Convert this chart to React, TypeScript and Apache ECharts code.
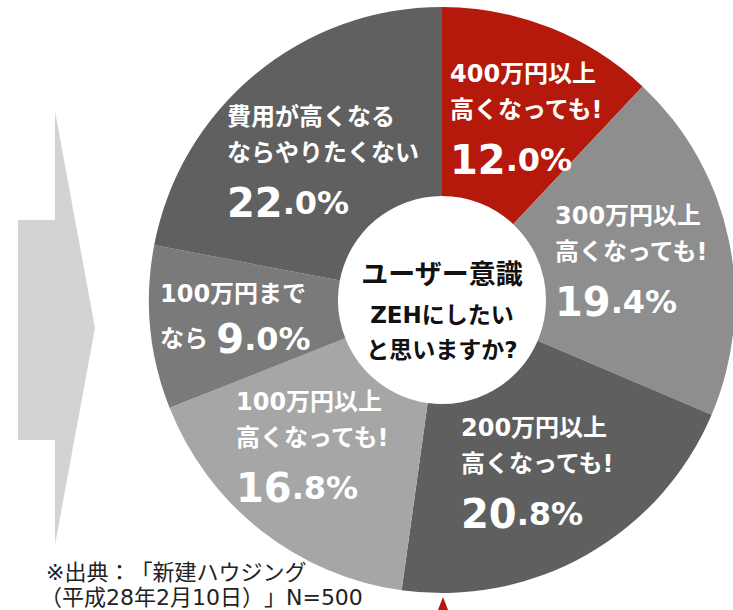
import React, { useEffect, useRef } from "react";
import * as echarts from "echarts";

// ---- data ----
const categories = [
  "400万円以上高くなっても!",
  "300万円以上高くなっても!",
  "200万円以上高くなっても!",
  "100万円以上高くなっても!",
  "100万円までなら",
  "費用が高くなるならやりたくない",
];
const labelLines: string[][] = [
  ["400万円以上", "高くなっても!"],
  ["300万円以上", "高くなっても!"],
  ["200万円以上", "高くなっても!"],
  ["100万円以上", "高くなっても!"],
  ["100万円まで", "なら"],
  ["費用が高くなる", "ならやりたくない"],
];
const values = [12.0, 19.4, 20.8, 16.8, 9.0, 22.0];
const inlinePct = [false, false, false, false, true, false];

const centerTitle = "ユーザー意識";
const centerLines = ["ZEHにしたい", "と思いますか?"];
const sourceLines = ["※出典：「新建ハウジング", "（平成28年2月10日）」N=500"];

// ---- styles / layout ----
const sliceColors = ["#B5190B", "#8E8E8E", "#5F5F5F", "#A6A6A6", "#7A7A7A", "#606060"];
const labelAnchors = [
  [450, 56],
  [555, 198],
  [461, 410],
  [236, 384],
  [160, 276],
  [227, 99],
];
const FONT = "'DejaVu Sans', 'Noto Sans CJK JP', sans-serif";
const CJK = "'Noto Sans CJK JP', 'DejaVu Sans', sans-serif";

export default function App() {
  const ref = useRef<HTMLDivElement>(null);
  useEffect(() => {
    document.body.style.margin = "0";
    const st = document.createElement("style");
    st.textContent = "svg text { text-spacing-trim: space-all; }";
    document.head.appendChild(st);
    if (!ref.current) return;
    const chart = echarts.init(ref.current, undefined, { renderer: "svg" });
    const cx = 442;
    const cy = 300;
    const W = "#fff";
    const option: any = {
      animation: false,
      backgroundColor: "#ffffff",
      series: [
        {
          type: "pie",
          center: [cx, cy],
          radius: [104, 293],
          startAngle: 90,
          clockwise: true,
          avoidLabelOverlap: false,
          silent: true,
          itemStyle: { borderWidth: 0 },
          labelLine: { show: false },
          label: {
            show: true,
            position: "inside",
            color: W,
            fontFamily: FONT,
            fontWeight: "bold",
            align: "left",
            formatter: (p: any) => {
              const i = p.dataIndex;
              const [ip, dp] = values[i].toFixed(1).split(".");
              const lines = labelLines[i];
              if (inlinePct[i]) {
                return `{t|${lines[0]}}\n{t|${lines[1]} }{b2|${ip}}{s2|.${dp}%}`;
              }
              return `{t|${lines[0]}}\n{t|${lines[1]}}\n{b|${ip}}{s|.${dp}%}`;
            },
            rich: {
              t: { fontSize: 24, lineHeight: 36, color: W, fontWeight: "bold", fontFamily: FONT },
              b: { fontSize: 40, lineHeight: 64, color: W, fontWeight: "bold", fontFamily: FONT },
              s: { fontSize: 32, lineHeight: 64, color: W, fontWeight: "bold", fontFamily: FONT },
              b2: { fontSize: 40, lineHeight: 54, color: W, fontWeight: "bold", fontFamily: FONT },
              s2: { fontSize: 32, lineHeight: 54, color: W, fontWeight: "bold", fontFamily: FONT },
            },
          },
          labelLayout: (params: any) => {
            const a = labelAnchors[params.dataIndex];
            return { x: a[0], y: a[1], align: "left", verticalAlign: "top" };
          },
          data: categories.map((name, i) => ({
            name,
            value: values[i],
            itemStyle: { color: sliceColors[i] },
          })),
        },
      ],
      graphic: [
        {
          type: "polygon",
          shape: {
            points: [
              [18, 220],
              [55, 220],
              [55, 111],
              [95, 328],
              [55, 545],
              [55, 440],
              [18, 440],
            ],
          },
          style: { fill: "#D3D3D3" },
        },
        {
          type: "polygon",
          shape: { points: [[443, 597], [434, 620], [452, 620]] },
          style: { fill: "#B5190B" },
        },
        {
          type: "text",
          x: cx,
          y: 272,
          style: {
            text: centerTitle,
            fill: "#111",
            font: `bold 27px ${CJK}`,
            align: "center",
            verticalAlign: "middle",
          },
        },
        {
          type: "text",
          x: cx,
          y: 315,
          style: {
            text: centerLines[0],
            fill: "#111",
            font: `bold 23px ${FONT}`,
            align: "center",
            verticalAlign: "middle",
          },
        },
        {
          type: "text",
          x: cx,
          y: 350,
          style: {
            text: centerLines[1],
            fill: "#111",
            font: `bold 23px ${FONT}`,
            align: "center",
            verticalAlign: "middle",
          },
        },
        ...sourceLines.map((s, k) => ({
          type: "text",
          x: k === 0 ? 46 : 40,
          y: k === 0 ? 572 : 597,
          style: {
            text: s,
            fill: "#222",
            font: `22px ${FONT}`,
            align: "left",
            verticalAlign: "middle",
          },
        })),
      ],
    };
    chart.setOption(option);
    return () => {
      chart.dispose();
      st.remove();
    };
  }, []);
  return <div ref={ref} style={{ width: 733, height: 610 }} />;
}
